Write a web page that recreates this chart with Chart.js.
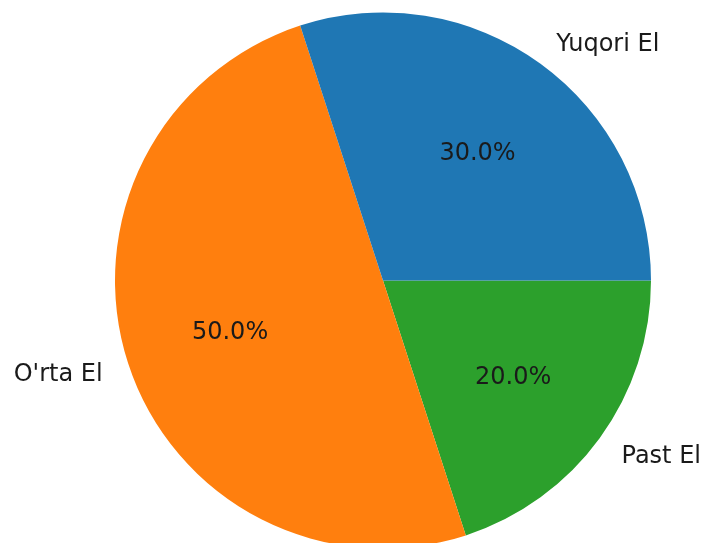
<!DOCTYPE html>
<html>
<head>
<meta charset="utf-8">
<script src="https://cdn.jsdelivr.net/npm/chart.js@4/dist/chart.umd.min.js"></script>
<style>
  html, body { margin: 0; padding: 0; background: #fff; overflow: hidden; }
  #wrap { width: 708px; height: 560px; }
</style>
</head>
<body>
<div id="wrap"><canvas id="c" width="708" height="560"></canvas></div>
<script>
// Data (drawn clockwise in Chart.js, so order is reversed from matplotlib's counter-clockwise order)
const categories = ["Past El", "O'rta El", "Yuqori El"];
const values = [20, 50, 30];
const colors = ["#2ca02c", "#ff7f0e", "#1f77b4"];

const labelPlugin = {
  id: 'pieLabels',
  afterDatasetsDraw(chart) {
    const ctx = chart.ctx;
    const meta = chart.getDatasetMeta(0);
    const data = chart.data.datasets[0].data;
    const total = data.reduce((a, b) => a + b, 0);
    const dy = 3;
    ctx.save();
    ctx.font = '24px "DejaVu Sans"';
    ctx.fillStyle = '#1a1a1a';
    ctx.textBaseline = 'middle';
    meta.data.forEach((arc, i) => {
      const mid = (arc.startAngle + arc.endAngle) / 2;
      const r = arc.outerRadius;
      const cx = arc.x, cy = arc.y;
      // outer category label
      const lx = cx + Math.cos(mid) * r * 1.1;
      const ly = cy + Math.sin(mid) * r * 1.1;
      ctx.textAlign = Math.cos(mid) >= 0 ? 'left' : 'right';
      ctx.fillText(chart.data.labels[i], lx, ly + dy);
      // percentage
      const px = cx + Math.cos(mid) * r * 0.6;
      const py = cy + Math.sin(mid) * r * 0.6;
      ctx.textAlign = 'center';
      ctx.fillText((data[i] / total * 100).toFixed(1) + '%', px, py + dy);
    });
    ctx.restore();
  }
};

new Chart(document.getElementById('c'), {
  type: 'pie',
  data: {
    labels: categories,
    datasets: [{
      data: values,
      backgroundColor: colors,
      borderWidth: 0,
      hoverOffset: 0
    }]
  },
  options: {
    responsive: false,
    animation: false,
    devicePixelRatio: 1,
    rotation: 90,
    layout: { padding: { left: 115, right: 57, top: 12.5, bottom: 11.5 } },
    plugins: {
      legend: { display: false },
      title: { display: false },
      tooltip: { enabled: false }
    },
    events: []
  },
  plugins: [labelPlugin]
});
</script>
</body>
</html>
